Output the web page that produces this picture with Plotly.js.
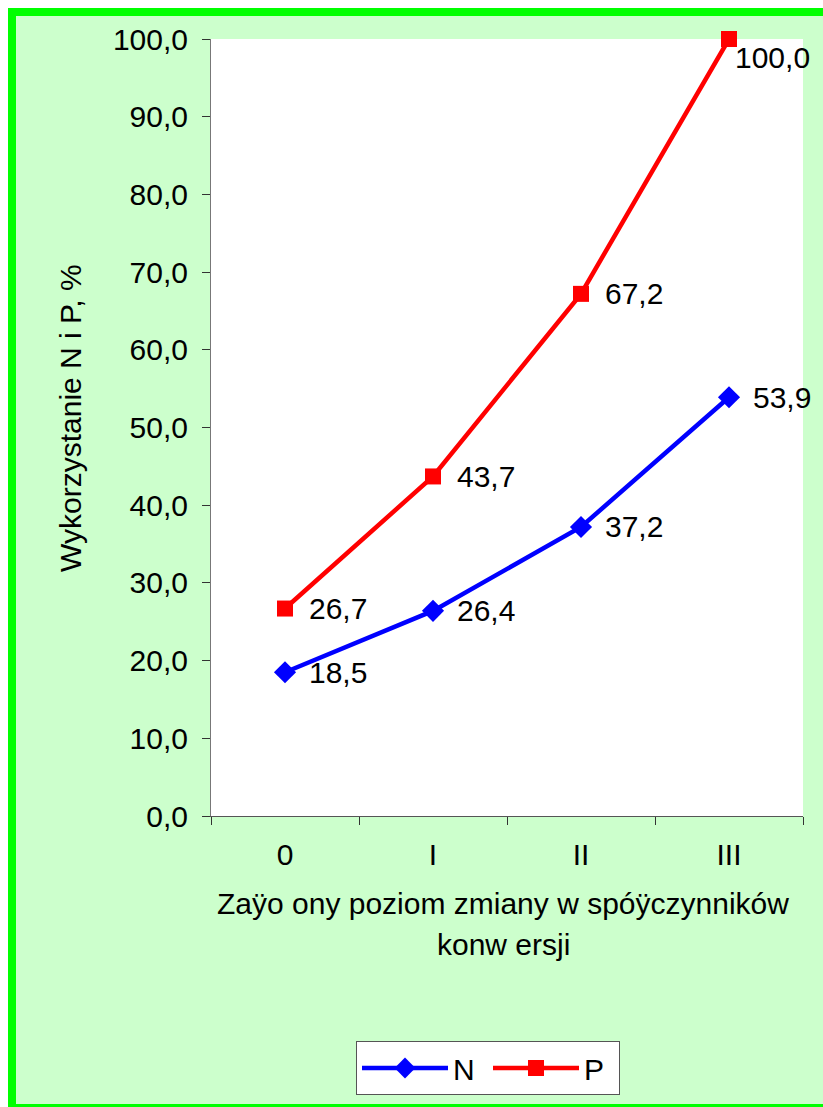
<!DOCTYPE html>
<html>
<head>
<meta charset="utf-8">
<script src="https://cdn.plot.ly/plotly-3.0.1.min.js"></script>
<style>
html,body{margin:0;padding:0;background:#fff;overflow:hidden;}
#chart{width:823px;height:1107px;}
</style>
</head>
<body>
<div id="chart"></div>
<script>
const categories = ['0', 'I', 'II', 'III'];
const seriesN = [18.5, 26.4, 37.2, 53.9];
const seriesP = [26.7, 43.7, 67.2, 100.0];
const yTitle = 'Wykorzystanie N i P, %';
const xTitleLines = ['Zaÿo ony poziom zmiany w spóÿczynników', 'konw ersji'];

const W = 823, H = 1107;
const L = 211, R = 803, T = 39, B = 816;
const px = v => (v - L) / (R - L);
const py = v => (B - v) / (B - T);
const FONT = '"Liberation Sans", Arial, sans-serif';
const FS = 30;

function fmt(v){ return v.toFixed(1).replace('.', ','); }

const traces = [
  {x: categories, y: seriesN, name: 'N', type: 'scatter', mode: 'lines+markers', cliponaxis: false,
   line: {color: '#0000FF', width: 4.5},
   marker: {symbol: 'diamond', size: 17, color: '#0000FF'}},
  {x: categories, y: seriesP, name: 'P', type: 'scatter', mode: 'lines+markers', cliponaxis: false,
   line: {color: '#FF0000', width: 4.5},
   marker: {symbol: 'square', size: 16, color: '#FF0000'}}
];

const annotations = [];
function addLabels(vals){
  vals.forEach((v, i) => {
    const atTop = v >= 100;
    annotations.push({x: categories[i], y: v, xref: 'x', yref: 'y', text: fmt(v),
      showarrow: false, xanchor: 'left', yanchor: 'middle', xshift: atTop ? 4 : 22,
      yshift: atTop ? -18 : 0, font: {family: FONT, size: FS, color: '#000'}});
  });
}
addLabels(seriesN);
addLabels(seriesP);

annotations.push({xref: 'paper', yref: 'paper', x: px(71), y: py(418), text: yTitle,
  textangle: -90, showarrow: false, xanchor: 'center', yanchor: 'middle',
  font: {family: FONT, size: FS, color: '#000'}});
annotations.push({xref: 'paper', yref: 'paper', x: px(503), y: py(903), text: xTitleLines[0],
  showarrow: false, xanchor: 'center', yanchor: 'middle', font: {family: FONT, size: FS, color: '#000'}});
annotations.push({xref: 'paper', yref: 'paper', x: px(503), y: py(945), text: xTitleLines[1],
  showarrow: false, xanchor: 'center', yanchor: 'middle', font: {family: FONT, size: FS, color: '#000'}});

const shapes = [
  {type: 'rect', xref: 'paper', yref: 'paper', x0: px(0), x1: px(W), y0: py(0), y1: py(8), fillcolor: '#FFFFFF', line: {width: 0}},
  {type: 'rect', xref: 'paper', yref: 'paper', x0: px(0), x1: px(8), y0: py(0), y1: py(H), fillcolor: '#FFFFFF', line: {width: 0}},
  {type: 'rect', xref: 'paper', yref: 'paper', x0: px(8), x1: px(W), y0: py(8), y1: py(16), fillcolor: '#00FF00', line: {width: 0}},
  {type: 'rect', xref: 'paper', yref: 'paper', x0: px(8), x1: px(16), y0: py(8), y1: py(H), fillcolor: '#00FF00', line: {width: 0}},
  {type: 'rect', xref: 'paper', yref: 'paper', x0: px(8), x1: px(W), y0: py(1104), y1: py(H), fillcolor: '#00FF00', line: {width: 0}},
  {type: 'rect', xref: 'paper', yref: 'paper', x0: px(810), x1: px(W + 2), y0: py(16), y1: py(1104), fillcolor: '#CCFFCC', line: {width: 0}}
];

const layout = {
  width: W, height: H,
  margin: {l: L, r: W - R, t: T, b: H - B, pad: 0},
  paper_bgcolor: '#CCFFCC',
  plot_bgcolor: '#FFFFFF',
  separators: ', ',
  font: {family: FONT, size: FS, color: '#000'},
  showlegend: true,
  legend: {orientation: 'h', x: px(356), y: py(1041), xanchor: 'left', yanchor: 'top',
    bgcolor: '#FFFFFF', bordercolor: '#555555', borderwidth: 1,
    font: {family: FONT, size: FS, color: '#000'}, itemwidth: 86, entrywidth: 30},
  xaxis: {type: 'category', categoryorder: 'array', categoryarray: categories,
    range: [-0.5, 3.5], tickson: 'boundaries', ticks: 'outside', ticklen: 8, tickwidth: 1,
    tickcolor: '#333', showline: true, linecolor: '#555', linewidth: 1, showgrid: false,
    zeroline: false, tickfont: {family: FONT, size: FS, color: '#000'}, ticklabelstandoff: 12,
    fixedrange: true},
  yaxis: {range: [0, 100], dtick: 10, tick0: 0, tickformat: '.1f', ticks: 'outside', ticklen: 8,
    tickwidth: 1, tickcolor: '#333', showline: true, linecolor: '#777', linewidth: 1,
    showgrid: false, zeroline: false, tickfont: {family: FONT, size: FS, color: '#000'},
    ticklabelstandoff: 8, fixedrange: true},
  annotations: annotations,
  shapes: shapes
};

Plotly.newPlot('chart', traces, layout, {displayModeBar: false, staticPlot: true});
</script>
</body>
</html>
